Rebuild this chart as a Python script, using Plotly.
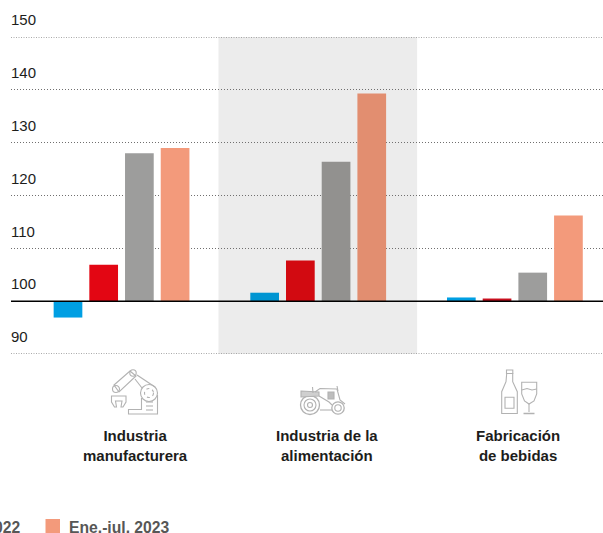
import plotly.graph_objects as go

W, H = 603, 533

categories = ["Industria<br>manufacturera", "Industria de la<br>alimentación", "Fabricación<br>de bebidas"]
y_ticks = [90, 100, 110, 120, 130, 140, 150]
BASE = 100

series_names = ["Ene.-jul. 2020", "Ene.-jul. 2021", "Ene.-jul. 2022", "Ene.-jul. 2023"]
values_2020 = [96.9, 101.6, 100.7]
values_2021 = [106.9, 107.7, 100.5]
values_2022 = [128.0, 126.4, 105.4]
values_2023 = [129.0, 139.3, 116.2]

colors_2020 = ["#009fe3", "#0095d2", "#009fe3"]
colors_2021 = ["#e30613", "#d20a11", "#c80f1e"]
colors_2022 = ["#9d9d9c", "#92918f", "#9d9d9c"]
colors_2023 = ["#f39a7b", "#e28e70", "#f39a7b"]

label_centers = [135, 326.5, 518]

L, T, B = 11, 37, 354

fig = go.Figure()
for name, vals, cols in zip(
    series_names,
    [values_2020, values_2021, values_2022, values_2023],
    [colors_2020, colors_2021, colors_2022, colors_2023],
):
    fig.add_trace(go.Bar(
        x=categories,
        y=[v - BASE for v in vals],
        base=[BASE] * len(vals),
        name=name,
        marker=dict(color=cols, line=dict(width=0)),
        showlegend=False,
        hovertemplate="%{x}: %{customdata}<extra>" + name + "</extra>",
        customdata=vals,
    ))

shapes = []
# Band behind the middle group
shapes.append(dict(type="rect", xref="x", yref="y", x0=0.493, x1=1.503, y0=90, y1=150,
                   fillcolor="#ececec", line=dict(width=0), layer="below"))
# Edge gridlines, which the axis does not draw on its own range limits
for edge in (y_ticks[0], y_ticks[-1]):
    shapes.append(dict(type="line", xref="paper", yref="y", x0=0, x1=1, y0=edge, y1=edge,
                       line=dict(color="#8f8f8f", width=1.5, dash="1px,1.5px"), layer="above"))
# Base line
shapes.append(dict(type="line", xref="paper", yref="y", x0=0, x1=1, y0=BASE, y1=BASE,
                   line=dict(color="#000000", width=1.5), layer="above"))

ICON = "#b2b2b2"


def ix(x):
    # page pixel -> paper fraction of the plot area
    return (x - L) / (W - L)


def iy(y):
    return (B - y) / (B - T)


def poly(points, close=False, fill=None, width=1.1, color=ICON):
    d = "M" + " L".join(f"{ix(x):.5f},{iy(y):.5f}" for x, y in points)
    if close:
        d += " Z"
    s = dict(type="path", xref="paper", yref="paper", path=d,
             line=dict(color=color, width=width), layer="above")
    if fill:
        s["fillcolor"] = fill
    return s


def circle(cx, cy, r, width=1.1, dash=None):
    ln = dict(color=ICON, width=width)
    if dash:
        ln["dash"] = dash
    return dict(type="circle", xref="paper", yref="paper",
                x0=ix(cx - r), x1=ix(cx + r), y0=iy(cy + r), y1=iy(cy - r),
                line=ln, layer="above")


# Robot arm icon
shapes += [
    poly([(157.5, 395), (157.5, 414), (128.5, 414), (128.5, 409.5), (141.5, 409.5), (141.5, 398)]),
    poly([(146, 402), (153, 402)]), poly([(146, 406), (153, 406)]), poly([(146, 410), (153, 410)]),
    circle(149, 393, 8.5), circle(149, 393, 4.5, dash="dot"),
    poly([(114, 385), (130, 371), (136, 376), (119, 392)], close=True),
    circle(133, 373, 3.2),
    poly([(137, 375), (155, 387)]), poly([(135, 379), (142, 388)]),
    circle(116, 389, 3.5),
    poly([(111.5, 396), (126, 396), (126, 402), (123, 407), (121, 407), (122, 401),
          (115.5, 401), (116.5, 407), (114.5, 407), (111.5, 402)], close=True),
]
# Tractor icon
shapes += [
    circle(310, 405, 9.5, width=1.3), circle(310, 405, 6), circle(310, 405, 2.5),
    circle(338, 408, 6.2, width=1.3), circle(338, 408, 3.2),
    poly([(301, 391), (319, 392), (319, 396), (301, 397)], close=True, fill="#cfcfcf"),
    poly([(315, 392), (320, 388.5), (337, 389), (340, 400), (345, 404)]),
    poly([(320, 410), (332, 410)]), poly([(319, 396), (329, 402), (332, 405)]),
    poly([(312.5, 387), (313, 393)]), poly([(337, 386), (338, 391)]),
    poly([(328, 392), (334, 392), (334, 399), (328, 399)], close=True, fill="#bdbdbd"),
]
# Bottle and glass icon
shapes += [
    poly([(506.5, 370), (512.8, 370), (512.8, 373.5), (506.5, 373.5)], close=True),
    poly([(506.7, 373.5), (506, 381.7), (501.7, 391.7), (501.7, 413.5), (517.3, 413.5),
          (517.3, 391.7), (512.7, 381.7), (512.7, 373.5)], close=True),
    poly([(505, 397.3), (514, 397.3), (514, 408.3), (505, 408.3)], close=True),
    poly([(521.7, 382.3), (536.7, 382.3), (536.7, 394), (534, 401), (529, 404),
          (524.5, 401), (521.7, 394)], close=True),
    poly([(521.7, 390), (527, 388.5), (532, 390), (536.7, 389)]),
    poly([(529, 404), (529, 412)]),
    poly([(523.5, 413.5), (534.5, 413.5)], width=1.5),
]
# Legend swatch
shapes.append(dict(type="rect", xref="paper", yref="paper", x0=ix(45.5), x1=ix(60),
                   y0=iy(533), y1=iy(519), fillcolor="#f39a7b", line=dict(width=0), layer="above"))

annotations = [
    dict(xref="paper", yref="paper", x=ix(22.5), y=iy(527), xanchor="right", yanchor="middle",
         text="<b>Ene.-jul. 2022</b>", showarrow=False,
         font=dict(family="Liberation Sans", size=15.7, color="#575756")),
    dict(xref="paper", yref="paper", x=ix(67), y=iy(527), xanchor="left", yanchor="middle",
         text="<b>Ene.-jul. 2023</b>", showarrow=False,
         font=dict(family="Liberation Sans", size=15.7, color="#575756")),
]
for label, cx in zip(categories, label_centers):
    annotations.append(dict(
        xref="paper", yref="paper", x=ix(cx), y=iy(445.5), xanchor="center", yanchor="middle",
        text=f"<b>{label}</b>", showarrow=False, align="center",
        font=dict(family="Liberation Sans", size=15, color="#1d1d1b"),
    ))

fig.update_layout(
    width=W, height=H, autosize=False,
    margin=dict(l=L, r=0, t=T, b=H - B, pad=0, autoexpand=False),
    paper_bgcolor="#ffffff", plot_bgcolor="rgba(0,0,0,0)",
    barmode="group", bargap=0.274, bargroupgap=0.196,
    shapes=shapes, annotations=annotations,
    xaxis=dict(
        type="category", categoryorder="array", categoryarray=categories, automargin=False,
        range=[-0.562, 2.448], showgrid=False, zeroline=False, showline=False, ticks="",
        showticklabels=False,
    ),
    yaxis=dict(
        range=[90, 150], tickvals=y_ticks, showline=False, zeroline=False, automargin=False,
        showgrid=True, gridcolor="#706f6f", gridwidth=1, griddash="1px,2px",
        ticks="", ticklabelposition="inside", ticklabeloverflow="allow", ticklabelshift=-17,
        ticklabelstandoff=-3,
        tickfont=dict(family="Liberation Sans", size=15, color="#1d1d1b"),
    ),
)

fig.write_html("out.html", config=dict(displayModeBar=False),
               post_script="document.body.style.margin='0';document.body.style.overflow='hidden';")
